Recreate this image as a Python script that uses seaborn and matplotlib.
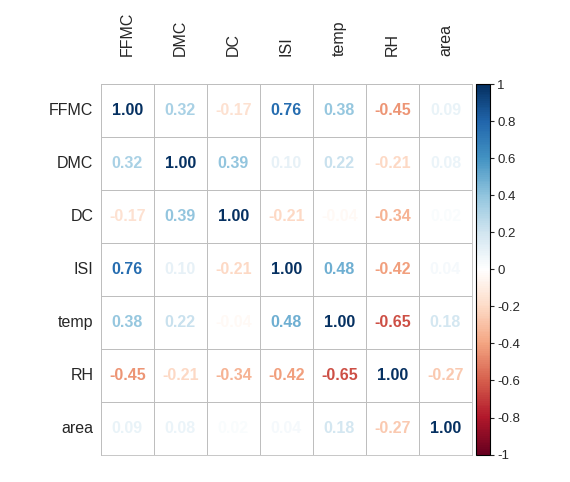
import matplotlib
matplotlib.use("Agg")
import matplotlib.pyplot as plt
import matplotlib.colors as mcolors
import numpy as np
import pandas as pd
import seaborn as sns

# Correlation matrix of the forest fire variables
VARS = ["FFMC", "DMC", "DC", "ISI", "temp", "RH", "area"]
FFMC = [1.00, 0.32, -0.17, 0.76, 0.38, -0.45, 0.09]
DMC  = [0.32, 1.00, 0.39, 0.10, 0.22, -0.21, 0.08]
DC   = [-0.17, 0.39, 1.00, -0.21, -0.04, -0.34, 0.02]
ISI  = [0.76, 0.10, -0.21, 1.00, 0.48, -0.42, 0.04]
TEMP = [0.38, 0.22, -0.04, 0.48, 1.00, -0.65, 0.18]
RH   = [-0.45, -0.21, -0.34, -0.42, -0.65, 1.00, -0.27]
AREA = [0.09, 0.08, 0.02, 0.04, 0.18, -0.27, 1.00]
CBAR_TICKS = [-1, -0.8, -0.6, -0.4, -0.2, 0, 0.2, 0.4, 0.6, 0.8, 1]

corr = pd.DataFrame([FFMC, DMC, DC, ISI, TEMP, RH, AREA], index=VARS, columns=VARS)

RDBU = ["#67001F", "#B2182B", "#D6604D", "#F4A582", "#FDDBC7", "#FFFFFF",
        "#D1E5F0", "#92C5DE", "#4393C3", "#2166AC", "#053061"]
cmap = mcolors.LinearSegmentedColormap.from_list("corr", RDBU, N=200)
norm = mcolors.Normalize(vmin=-1, vmax=1)

sns.set_style("white")
plt.rcParams["font.family"] = ["Liberation Sans", "DejaVu Sans"]

fig = plt.figure(figsize=(5.7, 4.82), dpi=100)
ax = fig.add_axes([0.177, 0.056, 0.651, 0.770])
cax = fig.add_axes([0.835, 0.057, 0.025, 0.768])

sns.heatmap(corr, ax=ax, cmap=mcolors.ListedColormap(["white"]), cbar=False,
            annot=True, fmt=".2f", linewidths=0.6, linecolor="#bebebe",
            annot_kws={"fontsize": 11.5, "fontweight": "bold"})

# colour each number by its correlation value
vals = corr.values.ravel()
for txt, v in zip(ax.texts, vals):
    txt.set_color(cmap(norm(v)))

ax.xaxis.tick_top()
ax.set_xticklabels(VARS, rotation=90, fontsize=11.5)
ax.set_yticklabels(VARS, rotation=0, fontsize=11.5)
ax.tick_params(axis="x", length=0, pad=20)
ax.tick_params(axis="y", length=0, pad=5.5)
ax.set_xlabel("")
ax.set_ylabel("")
for s in ax.spines.values():
    s.set_visible(True)
    s.set_color("#bebebe")
    s.set_linewidth(0.6)

sm = matplotlib.cm.ScalarMappable(norm=norm, cmap=cmap)
cb = fig.colorbar(sm, cax=cax, ticks=CBAR_TICKS)
cb.ax.set_yticklabels([f"{t:g}" for t in CBAR_TICKS], fontsize=9.5)
cb.ax.tick_params(length=3, width=0.8, pad=2)
cb.outline.set_edgecolor("black")
cb.outline.set_linewidth(0.8)

fig.savefig("out.png", dpi=100)
